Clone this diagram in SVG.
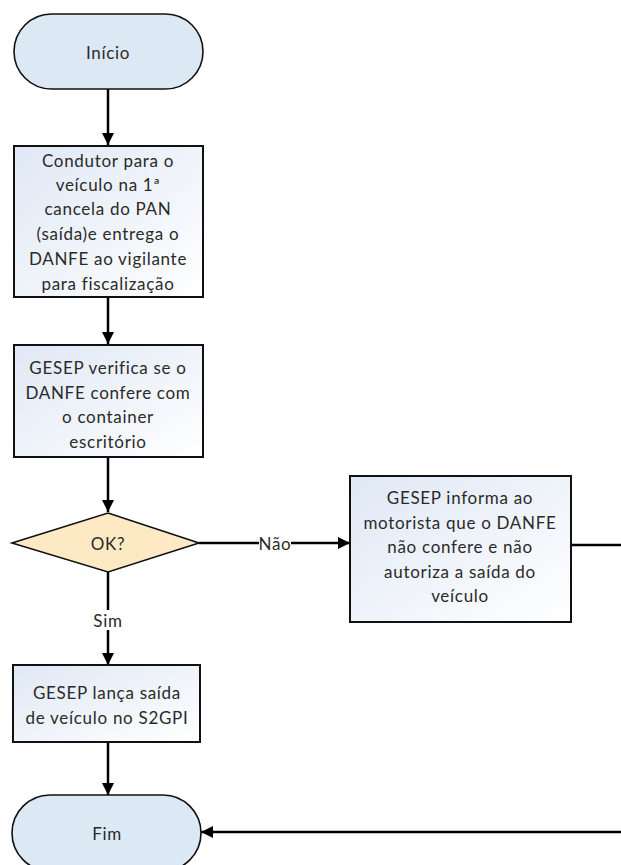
<svg xmlns="http://www.w3.org/2000/svg" width="621" height="865" viewBox="0 0 621 865">
<style>
  text { font-family: Lato, "Open Sans", "Liberation Sans", sans-serif; font-size: 17px; letter-spacing: 0.7px; fill: #2a2a2a; text-anchor: middle; dominant-baseline: central; }
  .term { fill: #dde8f5; stroke: #111; stroke-width: 1.6; }
  .box { fill: url(#bg); stroke: #111; stroke-width: 2; }
  .dec { fill: #fde9c4; stroke: #111; stroke-width: 1.6; }
  .con { fill: none; stroke: #000; stroke-width: 2.5; }
  .lbl { fill: #fff; }
</style>
<defs>
  <linearGradient id="bg" x1="0" y1="0" x2="1" y2="1">
    <stop offset="0" stop-color="#dfe8f5"/>
    <stop offset="1" stop-color="#ffffff"/>
  </linearGradient>
  <marker id="ah" markerWidth="12" markerHeight="12" viewBox="0 0 12 12" refX="12" refY="6" orient="auto" markerUnits="userSpaceOnUse">
    <path d="M0,0 L12,6 L0,12 Z" fill="#000"/>
  </marker>
</defs>
<g id="connectors">
  <line class="con" x1="108" y1="89" x2="108" y2="145" marker-end="url(#ah)"/>
  <line class="con" x1="108" y1="297" x2="108" y2="344" marker-end="url(#ah)"/>
  <line class="con" x1="108" y1="457" x2="108" y2="512" marker-end="url(#ah)"/>
  <line class="con" x1="199" y1="543" x2="350" y2="543" marker-end="url(#ah)"/>
  <rect class="lbl" x="259" y="533" width="32" height="20"/>
  <text x="275" y="543">Não</text>
  <line class="con" x1="108" y1="572" x2="108" y2="665" marker-end="url(#ah)"/>
  <rect class="lbl" x="92" y="610" width="32" height="20"/>
  <text x="108" y="620">Sim</text>
  <line class="con" x1="108" y1="742" x2="108" y2="795" marker-end="url(#ah)"/>
  <line class="con" x1="571" y1="545" x2="621" y2="545"/>
  <line class="con" x1="621" y1="832" x2="201" y2="832" marker-end="url(#ah)"/>
</g>
<g id="inicio">
  <rect class="term" x="14" y="14" width="189" height="75" rx="37.5" ry="37.5"/>
  <text x="108" y="52">Início</text>
</g>
<g id="condutor">
  <rect class="box" x="14" y="146" width="189" height="151"/>
  <text x="108" y="160">Condutor para o</text>
  <text x="108" y="184">veículo na 1ª</text>
  <text x="108" y="208">cancela do PAN</text>
  <text x="108" y="233">(saída)e entrega o</text>
  <text x="108" y="258">DANFE ao vigilante</text>
  <text x="108" y="283">para fiscalização</text>
</g>
<g id="verifica">
  <rect class="box" x="14" y="345" width="189" height="112"/>
  <text x="108" y="367">GESEP verifica se o</text>
  <text x="108" y="392">DANFE confere com</text>
  <text x="108" y="416">o container</text>
  <text x="108" y="441">escritório</text>
</g>
<g id="ok">
  <polygon class="dec" points="108,513 199,543 108,572 12,543"/>
  <text x="108" y="543">OK?</text>
</g>
<g id="informa">
  <rect class="box" x="350" y="476" width="221" height="146"/>
  <text x="460" y="497">GESEP informa ao</text>
  <text x="460" y="522">motorista que o DANFE</text>
  <text x="460" y="546">não confere e não</text>
  <text x="460" y="571">autoriza a saída do</text>
  <text x="460" y="595">veículo</text>
</g>
<g id="lanca">
  <rect class="box" x="13" y="665" width="187" height="77"/>
  <text x="107" y="692">GESEP lança saída</text>
  <text x="107" y="717">de veículo no S2GPI</text>
</g>
<g id="fim">
  <rect class="term" x="12" y="795" width="189" height="76" rx="38" ry="38"/>
  <text x="107" y="833">Fim</text>
</g>
</svg>
